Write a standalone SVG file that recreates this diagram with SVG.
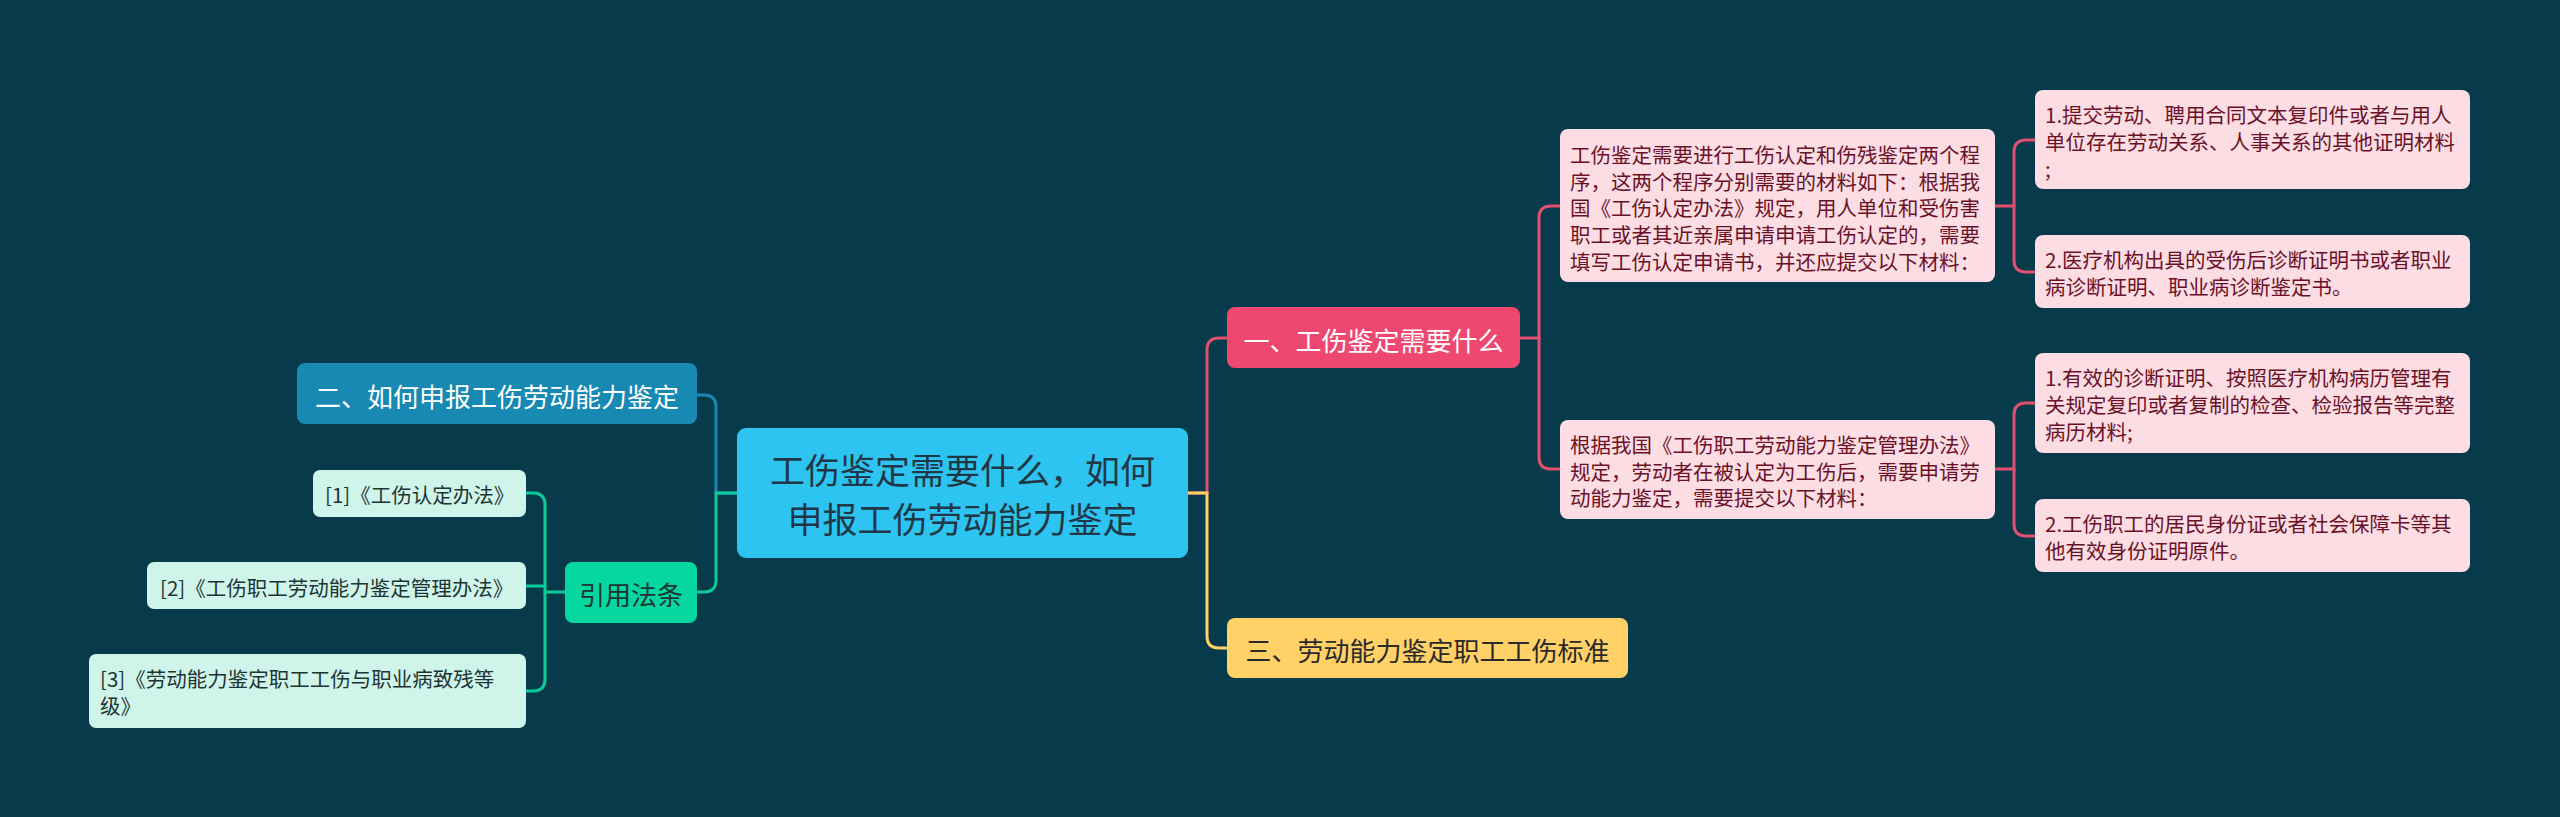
<svg xmlns="http://www.w3.org/2000/svg" width="2560" height="817" viewBox="0 0 2560 817">
<style>
text{font-family:"Noto Sans CJK SC","Noto Sans",sans-serif;dominant-baseline:central}
.c{fill:none;stroke-width:3;stroke-linecap:round}
.red{stroke:#E2506F}.yel{stroke:#FFD166}.teal{stroke:#0CCB98}.blue{stroke:#1889B0}
.leafp{fill:#FCDDE4}.tp{fill:#6B1127;font-size:20.5px}
.leaft{fill:#CFF5EA}.tt{fill:#1E3434;font-size:20.5px}
</style>
<rect width="2560" height="817" fill="#073B4C"/>
<g id="connectors">
<path class="c blue" d="M737,493 H716 V407 Q716,395 704,395 H697"/>
<path class="c teal" d="M737,493 H716 V580 Q716,592 704,592 H697"/>
<path class="c teal" d="M565,592 H545 V505 Q545,493 533,493 H526"/>
<path class="c teal" d="M545,586 H526"/>
<path class="c teal" d="M545,592 V679 Q545,691 533,691 H526"/>
<path class="c red" d="M1188,493 H1207 V350 Q1207,338 1219,338 H1226"/>
<path class="c yel" d="M1188,493 H1207 V636 Q1207,648 1219,648 H1226"/>
<path class="c red" d="M1520,338 H1539 V218 Q1539,206 1551,206 H1559"/>
<path class="c red" d="M1539,338 V457 Q1539,469 1551,469 H1559"/>
<path class="c red" d="M1995,206 H2014 V152 Q2014,140 2026,140 H2034"/>
<path class="c red" d="M2014,206 V260 Q2014,272 2026,272 H2034"/>
<path class="c red" d="M1995,469 H2014 V415 Q2014,403 2026,403 H2034"/>
<path class="c red" d="M2014,469 V524 Q2014,536 2026,536 H2034"/>
</g>
<g id="center">
<rect x="737" y="428" width="451" height="130" rx="9" fill="#2EC4F2"/>
<text x="962.5" y="468" font-size="35" fill="#203845" text-anchor="middle">工伤鉴定需要什么，如何</text>
<text x="962.5" y="517" font-size="35" fill="#203845" text-anchor="middle">申报工伤劳动能力鉴定</text>
</g>
<g id="branch1">
<rect x="1227" y="307" width="293" height="61" rx="8" fill="#EE4870"/>
<text x="1373.5" y="339" font-size="26" fill="#FFFFFF" text-anchor="middle">一、工伤鉴定需要什么</text>
</g>
<g id="branch3">
<rect x="1227" y="618" width="401" height="60" rx="8" fill="#FFD166"/>
<text x="1427.5" y="649" font-size="26" fill="#2A2A2A" text-anchor="middle">三、劳动能力鉴定职工工伤标准</text>
</g>
<g id="branch2">
<rect x="297" y="363" width="400" height="61" rx="8" fill="#1889B2"/>
<text x="497" y="395" font-size="26" fill="#FFFFFF" text-anchor="middle">二、如何申报工伤劳动能力鉴定</text>
</g>
<g id="refs">
<rect x="565" y="562" width="132" height="61" rx="8" fill="#06D6A0"/>
<text x="631" y="593" font-size="26" fill="#1E3434" text-anchor="middle">引用法条</text>
</g>
<g id="ref1">
<rect x="313" y="470" width="213" height="47" rx="7" class="leaft"/>
<text x="325" y="494" class="tt">[1]《工伤认定办法》</text>
</g>
<g id="ref2">
<rect x="147" y="562" width="379" height="47" rx="7" class="leaft"/>
<text x="160" y="587" class="tt">[2]《工伤职工劳动能力鉴定管理办法》</text>
</g>
<g id="ref3">
<rect x="89" y="654" width="437" height="74" rx="7" class="leaft"/>
<text x="100" y="678" class="tt">[3]《劳动能力鉴定职工工伤与职业病致残等</text>
<text x="100" y="705" class="tt">级》</text>
</g>
<g id="detailA">
<rect x="1560" y="129" width="435" height="153" rx="8" class="leafp"/>
<text x="1570" y="154" class="tp">工伤鉴定需要进行工伤认定和伤残鉴定两个程</text>
<text x="1570" y="181" class="tp">序，这两个程序分别需要的材料如下：根据我</text>
<text x="1570" y="207" class="tp">国《工伤认定办法》规定，用人单位和受伤害</text>
<text x="1570" y="234" class="tp">职工或者其近亲属申请申请工伤认定的，需要</text>
<text x="1570" y="261" class="tp">填写工伤认定申请书，并还应提交以下材料：</text>
</g>
<g id="detailB">
<rect x="1560" y="420" width="435" height="99" rx="8" class="leafp"/>
<text x="1570" y="444" class="tp">根据我国《工伤职工劳动能力鉴定管理办法》</text>
<text x="1570" y="471" class="tp">规定，劳动者在被认定为工伤后，需要申请劳</text>
<text x="1570" y="497" class="tp">动能力鉴定，需要提交以下材料：</text>
</g>
<g id="leafA1">
<rect x="2035" y="90" width="435" height="99" rx="8" class="leafp"/>
<text x="2045" y="114" class="tp">1.提交劳动、聘用合同文本复印件或者与用人</text>
<text x="2045" y="141" class="tp">单位存在劳动关系、人事关系的其他证明材料</text>
<text x="2045" y="168" class="tp">;</text>
</g>
<g id="leafA2">
<rect x="2035" y="235" width="435" height="73" rx="8" class="leafp"/>
<text x="2045" y="259" class="tp">2.医疗机构出具的受伤后诊断证明书或者职业</text>
<text x="2045" y="286" class="tp">病诊断证明、职业病诊断鉴定书。</text>
</g>
<g id="leafB1">
<rect x="2035" y="353" width="435" height="100" rx="8" class="leafp"/>
<text x="2045" y="377" class="tp">1.有效的诊断证明、按照医疗机构病历管理有</text>
<text x="2045" y="404" class="tp">关规定复印或者复制的检查、检验报告等完整</text>
<text x="2045" y="431" class="tp">病历材料;</text>
</g>
<g id="leafB2">
<rect x="2035" y="499" width="435" height="73" rx="8" class="leafp"/>
<text x="2045" y="523" class="tp">2.工伤职工的居民身份证或者社会保障卡等其</text>
<text x="2045" y="550" class="tp">他有效身份证明原件。</text>
</g>
</svg>
